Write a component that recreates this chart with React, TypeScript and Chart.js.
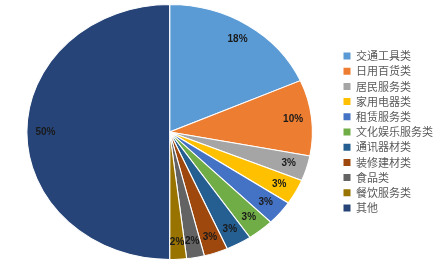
import { useEffect, useRef } from 'react';
import { Chart, registerables, DoughnutController } from 'chart.js';

Chart.register(...registerables);

const categories = [
  '交通工具类',
  '日用百货类',
  '居民服务类',
  '家用电器类',
  '租赁服务类',
  '文化娱乐服务类',
  '通讯器材类',
  '装修建材类',
  '食品类',
  '餐饮服务类',
  '其他',
];
const shares = [18.4, 9.6, 3.2, 3.2, 3.1, 3.0, 2.9, 2.7, 2.0, 1.9, 50.0];
const colors = [
  '#5B9BD5',
  '#ED7D31',
  '#A5A5A5',
  '#FFC000',
  '#4472C4',
  '#70AD47',
  '#255E91',
  '#9E480E',
  '#636363',
  '#997300',
  '#264478',
];

const STRETCH_X = 1.12;

const stretchPlugin = {
  id: 'stretchPie',
  beforeDatasetsDraw(chart: any) {
    const meta = chart.getDatasetMeta(0);
    const arc = meta.data[0];
    if (!arc) return;
    const { ctx } = chart;
    ctx.save();
    ctx.translate(arc.x, arc.y);
    ctx.scale(STRETCH_X, 1);
    ctx.translate(-arc.x, -arc.y);
  },
  afterDatasetsDraw(chart: any) {
    const { ctx } = chart;
    ctx.restore();
    const meta = chart.getDatasetMeta(0);
    const data = chart.data.datasets[0].data as number[];
    const total = data.reduce((a, b) => a + b, 0);
    ctx.save();
    ctx.font = 'bold 10px "Liberation Sans", Arial, sans-serif';
    ctx.fillStyle = '#1a1a1a';
    ctx.textAlign = 'center';
    ctx.textBaseline = 'middle';
    meta.data.forEach((el: any, i: number) => {
      const p = el.getProps(['x', 'y', 'startAngle', 'endAngle', 'outerRadius'], true);
      const mid = (p.startAngle + p.endAngle) / 2;
      const r = p.outerRadius * 0.87;
      const x = p.x + Math.cos(mid) * r * STRETCH_X;
      const y = p.y + Math.sin(mid) * r;
      const pct = Math.round((data[i] / total) * 100);
      ctx.fillText(pct + '%', x, y);
    });
    ctx.restore();
  },
};

export default function App() {
  const ref = useRef<HTMLCanvasElement | null>(null);

  useEffect(() => {
    if (!ref.current) return;
    const baseGen = (DoughnutController as any).overrides.plugins.legend.labels.generateLabels;
    const chart = new Chart(ref.current, {
      type: 'pie',
      data: {
        labels: categories,
        datasets: [
          {
            data: shares,
            backgroundColor: colors,
            borderColor: '#ffffff',
            borderWidth: 1,
          },
        ],
      },
      options: {
        responsive: false,
        animation: false,
        layout: { padding: { top: 4, bottom: 12, left: 0, right: -2 } },
        plugins: {
          tooltip: { enabled: false },
          legend: {
            position: 'right',
            align: 'center',
            labels: {
              boxWidth: 7,
              boxHeight: 7,
              padding: 4.2,
              color: '#595959',
              font: { family: '"Noto Sans CJK SC", sans-serif', size: 11 },
              generateLabels: (c: any) =>
                baseGen(c).map((l: any) => ({ ...l, lineWidth: 0, strokeStyle: l.fillStyle })),
            },
          },
        },
      },
      plugins: [stretchPlugin],
    });
    return () => chart.destroy();
  }, []);

  return (
    <div style={{ position: 'fixed', left: 0, top: 0, width: 441, height: 272, background: '#fff' }}>
      <canvas ref={ref} width={441} height={272} style={{ display: 'block' }} />
    </div>
  );
}
